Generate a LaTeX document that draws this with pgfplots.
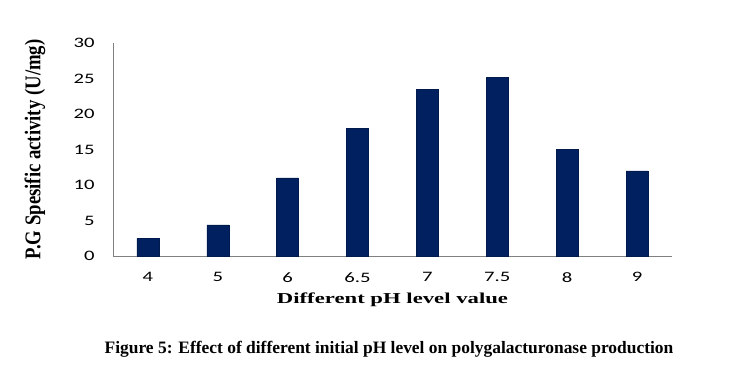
\documentclass[border=0pt]{standalone}
\usepackage{pgfplots}
\pgfplotsset{compat=1.18}
\usepackage{fontspec}
\setmainfont{Liberation Serif}
\newfontfamily\carlitowide[FakeStretch=1.43]{Carlito}
\newfontfamily\serifwide[FakeStretch=1.5]{Liberation Serif}
\definecolor{barblue}{RGB}{0,32,96}
\begin{document}
\begin{tikzpicture}
\useasboundingbox (0,0) rectangle (748bp,-369bp);
\begin{axis}[
  at={(113bp,-256bp)}, anchor=south west,
  scale only axis, width=559bp, height=213bp,
  xmin=-0.5, xmax=7.5, ymin=0, ymax=30,
  axis x line*=bottom, axis y line*=left,
  axis line style={-, draw=gray, line width=0.8pt},
  ytick={0,5,10,15,20,25,30},
  xtick={0,1,2,3,4,5,6,7},
  xticklabels={4,5,6,6.5,7,7.5,8,9},
  major tick length=0pt,
  tick style={draw=none},
  /pgf/number format/assume math mode=true,
  ticklabel style={font=\carlitowide\fontsize{14.5}{16}\selectfont, text=black},
  yticklabel style={xshift=-15bp},
  xticklabel style={yshift=-13bp},
  xlabel={Different pH level value},
  ylabel={\scalebox{1}[1.2]{P.G Spesific activity (U/mg)}},
  xlabel style={at={(axis description cs:0.5,-0.2066)}, anchor=center, font=\serifwide\bfseries\fontsize{15.2}{18}\selectfont},
  ylabel style={at={(axis description cs:-0.1395,0.5)}, anchor=center, font=\bfseries\fontsize{18.8}{21}\selectfont},
]
\addplot[ybar, bar width=22bp, fill=barblue, draw=barblue!80!black, line width=0.4pt]
  coordinates {(0,2.5) (1,4.4) (2,11.0) (3,18.0) (4,23.5) (5,25.2) (6,15.0) (7,12.0)};
\end{axis}
\node[font=\bfseries\fontsize{17.5}{20}\selectfont] at (389bp,-349bp) {Figure 5: Effect of different initial pH level on polygalacturonase production};
\end{tikzpicture}
\end{document}
